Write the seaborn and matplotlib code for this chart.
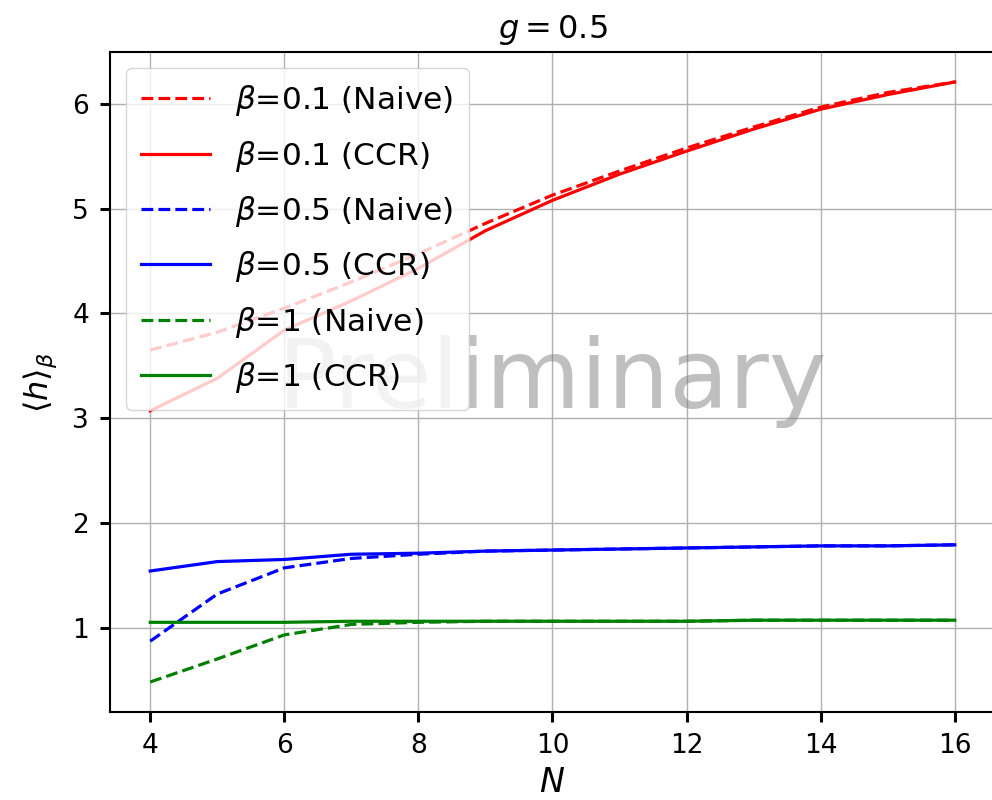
import matplotlib
matplotlib.use("Agg")
import matplotlib.pyplot as plt
import seaborn as sns
import pandas as pd

N = [4, 5, 6, 7, 8, 9, 10, 11, 12, 13, 14, 15, 16]

h_b01_naive = [3.65, 3.82, 4.05, 4.30, 4.57, 4.86, 5.13, 5.36, 5.58, 5.78, 5.97, 6.11, 6.21]
h_b01_ccr   = [3.07, 3.38, 3.84, 4.12, 4.43, 4.79, 5.08, 5.33, 5.55, 5.76, 5.95, 6.09, 6.21]
h_b05_naive = [0.87, 1.32, 1.57, 1.66, 1.70, 1.73, 1.74, 1.75, 1.76, 1.77, 1.78, 1.78, 1.79]
h_b05_ccr   = [1.54, 1.63, 1.65, 1.70, 1.71, 1.73, 1.74, 1.75, 1.76, 1.77, 1.78, 1.78, 1.79]
h_b1_naive  = [0.48, 0.70, 0.93, 1.03, 1.05, 1.06, 1.06, 1.06, 1.06, 1.07, 1.07, 1.07, 1.07]
h_b1_ccr    = [1.05, 1.05, 1.05, 1.06, 1.06, 1.06, 1.06, 1.06, 1.06, 1.07, 1.07, 1.07, 1.07]

series = [
    (r"$\beta$=0.1 (Naive)", h_b01_naive, "red", "--"),
    (r"$\beta$=0.1 (CCR)", h_b01_ccr, "red", "-"),
    (r"$\beta$=0.5 (Naive)", h_b05_naive, "blue", "--"),
    (r"$\beta$=0.5 (CCR)", h_b05_ccr, "blue", "-"),
    (r"$\beta$=1 (Naive)", h_b1_naive, "green", "--"),
    (r"$\beta$=1 (CCR)", h_b1_ccr, "green", "-"),
]

fig = plt.figure(figsize=(9.92, 8.0), dpi=100)
ax = fig.add_axes([110 / 992, 88 / 800, 885 / 992, 660 / 800])

for label, vals, color, ls in series:
    df = pd.DataFrame({"N": N, "h": vals})
    sns.lineplot(data=df, x="N", y="h", ax=ax, color=color, linestyle=ls,
                 linewidth=2.3, label=label)

ax.set_xticks([4, 6, 8, 10, 12, 14, 16])
ax.set_yticks([1, 2, 3, 4, 5, 6])
ax.margins(x=0.05, y=0.05)
ax.grid(True, color="#b0b0b0", linewidth=1.0)
ax.set_axisbelow(True)
ax.tick_params(axis="both", labelsize=19, length=7, width=2.2, direction="out")
ax.tick_params(axis="x", pad=8)
ax.tick_params(axis="y", pad=8)
for sp in ax.spines.values():
    sp.set_linewidth(1.5)

ax.set_xlabel(r"$N$", fontsize=24, labelpad=5)
ax.set_ylabel(r"$\langle h\rangle_\beta$", fontsize=23, labelpad=10)
ax.set_title(r"$g = 0.5$", fontsize=23, pad=10)

ax.text(0.5, 0.5, "Preliminary", transform=ax.transAxes, fontsize=70,
        color="gray", alpha=0.5, ha="center", va="center")

ax.legend(loc="upper left", fontsize=22.5, handlelength=2.2, labelspacing=0.65,
          borderpad=0.5)

fig.savefig("out.png", dpi=100)
